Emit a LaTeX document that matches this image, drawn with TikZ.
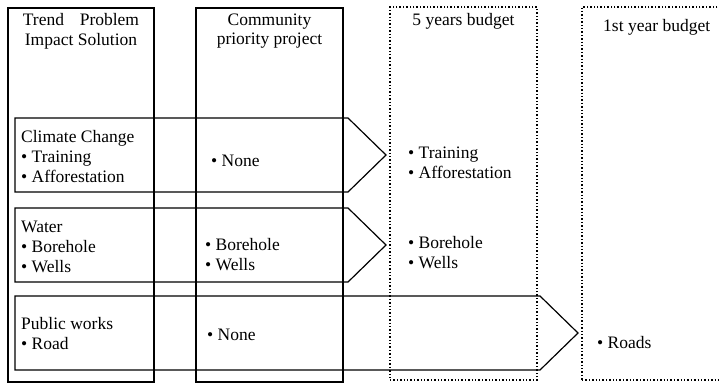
\documentclass[tikz,border=0pt]{standalone}
\usepackage{fontspec}
\setmainfont{Liberation Serif}
\usepackage{tikz}
\usetikzlibrary{
  positioning
}
\newcommand{\itm}{\textbullet\ }
\tikzset{
  colbox/.style={
    draw=black,
    line width=1.3pt,
    minimum height=374pt,
    inner sep=0pt
  },
  budgetbox/.style={
    draw=black,
    line width=1.4pt,
    dotted,
    minimum height=373pt,
    inner sep=0pt
  },
  rowarrow/.style={
    draw=black,
    line width=1.2pt,
    line join=miter
  },
  head/.style={
    inner sep=0pt,
    align=center,
    font=\fontsize{17.5}{19.5}\selectfont
  },
  entry/.style={
    inner sep=0pt,
    anchor=west,
    align=left,
    font=\fontsize{17.5}{20}\selectfont
  }
}
\begin{document}
\begin{tikzpicture}[x=1pt,y=-1pt]
  \useasboundingbox (0,0) rectangle (719,383);
  % columns
  \node[colbox, minimum width=146pt] (col1) at (81,195) {};
  \node[colbox, minimum width=147pt] (col2) at (269.5,195) {};
  \node[budgetbox, minimum width=147pt] (col3) at (463.5,193.5) {};
  \node[budgetbox, minimum width=160pt] (col4) at (662,193.5) {};
  % headings
  \node[head, below=6pt of col1.north] (h1)
    {Trend\hspace{0.9em}Problem\\Impact Solution};
  \node[head, below=6pt of col2.north] (h2) {Community\\priority project};
  \node[head, below=7pt of col3.north] (h3) {5 years budget};
  \node[head, anchor=north west] (h4) at (603,19) {1st year budget};
  % rows
  \foreach \r/\ytop/\ybot/\xend in {
    clim/118/192/348,
    water/208/282/348,
    works/296/370/540
  }{
    \draw[rowarrow] (15,\ytop) -- (\xend,\ytop)
      -- ({\xend+38},{(\ytop+\ybot)/2}) -- (\xend,\ybot)
      -- (15,\ybot) -- cycle;
  }
  % climate change
  \node[entry] (clim) at (21,157)
    {Climate Change\\\itm Training\\\itm Afforestation};
  \node[entry] (climprio) at (211,161) {\itm None};
  \node[entry] (climfive) at (408,163) {\itm Training\\\itm Afforestation};
  % water
  \node[entry] (water) at (21,247) {Water\\\itm Borehole\\\itm Wells};
  \node[entry] (waterprio) at (205,255) {\itm Borehole\\\itm Wells};
  \node[entry] (waterfive) at (408,253) {\itm Borehole\\\itm Wells};
  % public works
  \node[entry] (works) at (21,334) {Public works\\\itm Road};
  \node[entry] (worksprio) at (207,335) {\itm None};
  \node[entry] (worksone) at (597,343) {\itm Roads};
\end{tikzpicture}
\end{document}
